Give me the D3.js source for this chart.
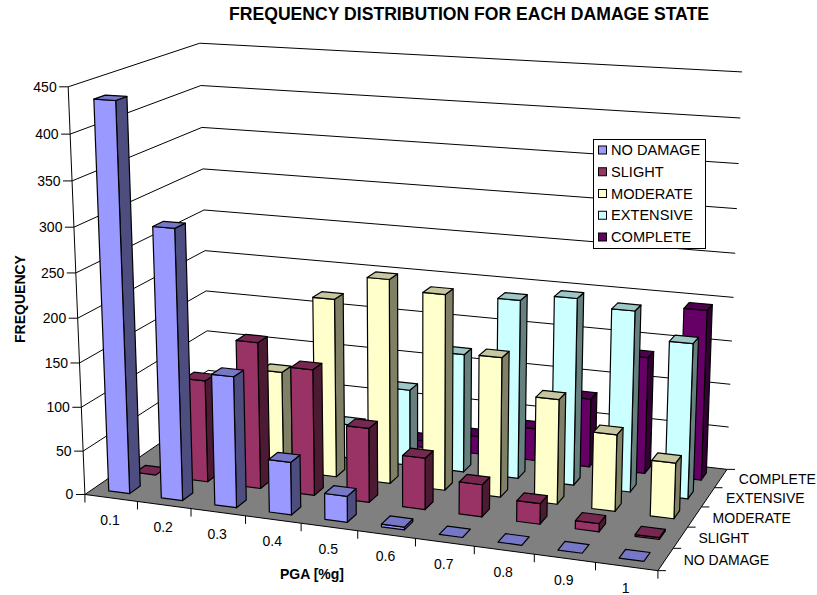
<!DOCTYPE html>
<html>
<head>
<meta charset="utf-8">
<script src="https://cdn.jsdelivr.net/npm/d3@7"></script>
<style>
  body { margin: 0; background: #fff; }
  text { font-family: "Liberation Sans", Arial, sans-serif; fill: #000; }
</style>
</head>
<body>
<svg id="chart"></svg>
<script>
// chart values
const categories = ["0.1", "0.2", "0.3", "0.4", "0.5", "0.6", "0.7", "0.8", "0.9", "1"];
const seriesNames = ["NO DAMAGE", "SLIGHT", "MODERATE", "EXTENSIVE", "COMPLETE"];
const noDamage  = [435, 303, 147, 59, 29, 3, 0, 0, 0, 0];
const slight    = [0, 117, 167, 143, 84, 58, 36, 23, 9, 2];
const moderate  = [0, 0, 115, 205, 233, 222, 158, 118, 86, 62];
const extensive = [0, 0, 0, 40, 89, 137, 205, 213, 205, 175];
const complete  = [0, 0, 0, 0, 8, 21, 38, 80, 135, 195];
const seriesValues = [noDamage, slight, moderate, extensive, complete];
const seriesColors = ["#9999FF", "#993366", "#FFFFCC", "#CCFFFF", "#660066"];

const width = 817;
const height = 595;

// where the corners of the plot box land on screen: [x, y, z] in 0..1 -> [px, py]
const boxCorners = [
  [[0, 0, 0], [85, 494]],
  [[1, 0, 0], [658, 571]],
  [[1, 0, 1], [727, 469]],
  [[0, 0, 1], [209, 410]],
  [[0, 1, 0], [68, 87]],
  [[0, 1, 1], [200, 43]],
  [[1, 1, 1], [742, 72]]
];

// least squares fit of the perspective camera through the corners
function fitCamera(pairs) {
  const rows = [], rhs = [];
  pairs.forEach(([[X, Y, Z], [u, v]]) => {
    rows.push([X, Y, Z, 1, 0, 0, 0, 0, -u * X, -u * Y, -u * Z]); rhs.push(u);
    rows.push([0, 0, 0, 0, X, Y, Z, 1, -v * X, -v * Y, -v * Z]); rhs.push(v);
  });
  const n = 11;
  const m = d3.range(n).map(i => d3.range(n + 1).map(j =>
    d3.sum(rows, (r, k) => r[i] * (j < n ? r[j] : rhs[k]))));
  for (let i = 0; i < n; i++) {
    let p = i;
    for (let k = i + 1; k < n; k++) if (Math.abs(m[k][i]) > Math.abs(m[p][i])) p = k;
    [m[i], m[p]] = [m[p], m[i]];
    for (let k = 0; k < n; k++) {
      if (k === i) continue;
      const f = m[k][i] / m[i][i];
      for (let j = i; j <= n; j++) m[k][j] -= f * m[i][j];
    }
  }
  return m.map((r, i) => r[n] / r[i]);
}

const cam = fitCamera(boxCorners);
function project(X, Y, Z) {
  const w = cam[8] * X + cam[9] * Y + cam[10] * Z + 1;
  return [(cam[0] * X + cam[1] * Y + cam[2] * Z + cam[3]) / w,
          (cam[4] * X + cam[5] * Y + cam[6] * Z + cam[7]) / w];
}

// gap width 150%: bars take 0.4 of each cell, both ways
const x = d3.scaleBand().domain(categories).range([0, 1]).paddingInner(0.6).paddingOuter(0.3);
const z = d3.scaleBand().domain(seriesNames).range([0, 1]).paddingInner(0.6).paddingOuter(0.3);
const y = d3.scaleLinear().domain([0, 450]).range([0, 1]);

const poly = d3.line();
const shade = (c, k) => {
  const col = d3.rgb(c);
  return d3.rgb(col.r * k, col.g * k, col.b * k).formatHex();
};

const svg = d3.select("#chart").attr("width", width).attr("height", height);

// floor
svg.append("path")
  .attr("d", poly([project(0, 0, 0), project(1, 0, 0), project(1, 0, 1), project(0, 0, 1)]) + "Z")
  .attr("fill", "#808080").attr("stroke", "none");

// gridlines on left and back walls
svg.append("g").selectAll("path")
  .data(y.ticks(9))
  .join("path")
  .attr("d", d => poly([project(0, y(d), 0), project(0, y(d), 1), project(1, y(d), 1)]))
  .attr("fill", "none").attr("stroke", "#000").attr("stroke-width", 1);

// axis lines and ticks
const axes = svg.append("g").attr("stroke", "#000").attr("fill", "none");
axes.append("path").attr("d", poly([project(0, 1, 0), project(0, 0, 0), project(1, 0, 0), project(1, 0, 1)]));
axes.selectAll(".ytick").data(y.ticks(9)).join("path").attr("class", "ytick")
  .attr("d", d => { const p = project(0, y(d), 0); return poly([p, [p[0] - 9, p[1]]]); });
axes.selectAll(".xtick").data(d3.range(categories.length + 1)).join("path").attr("class", "xtick")
  .attr("d", i => { const p = project(i / categories.length, 0, 0); return poly([p, [p[0], p[1] + 8]]); });
axes.selectAll(".ztick").data(d3.range(seriesNames.length + 1)).join("path").attr("class", "ztick")
  .attr("d", i => { const p = project(1, 0, i / seriesNames.length); return poly([p, [p[0] + 8, p[1]]]); });

// bars, painted back to front and right to left
const bars = [];
seriesNames.forEach((s, si) => categories.forEach((c, ci) => {
  bars.push({ s, c, si, ci, value: seriesValues[si][ci], color: seriesColors[si] });
}));
bars.sort((a, b) => d3.descending(a.si, b.si) || d3.descending(a.ci, b.ci));

const barG = svg.append("g").selectAll("g").data(bars).join("g")
  .attr("stroke", "#000").attr("stroke-width", 1.2).attr("stroke-linejoin", "round");

function faces(d) {
  const x0 = x(d.c), x1 = x0 + x.bandwidth();
  const z0 = z(d.s), z1 = z0 + z.bandwidth();
  const h = y(d.value);
  return [
    { k: 0.5, pts: [[x1, 0, z0], [x1, 0, z1], [x1, h, z1], [x1, h, z0]] },
    { k: 1, pts: [[x0, 0, z0], [x1, 0, z0], [x1, h, z0], [x0, h, z0]] },
    { k: 0.78, pts: [[x0, h, z0], [x1, h, z0], [x1, h, z1], [x0, h, z1]] }
  ];
}

barG.selectAll("path")
  .data(d => faces(d).filter(f => d.value > 0 || f.k === 0.78).map(f => ({ ...f, color: d.color })))
  .join("path")
  .attr("d", f => poly(f.pts.map(p => project(...p))) + "Z")
  .attr("fill", f => shade(f.color, f.k));

// tick labels
svg.append("g").selectAll("text").data(y.ticks(9)).join("text")
  .attr("x", d => project(0, y(d), 0)[0] - 11.5)
  .attr("y", d => project(0, y(d), 0)[1])
  .attr("dy", "0.35em").attr("text-anchor", "end").attr("font-size", 14)
  .text(d => d);

svg.append("g").selectAll("text").data(categories).join("text")
  .attr("x", d => project(x(d) + x.bandwidth() / 2, 0, 0)[0] - 1)
  .attr("y", d => project(x(d) + x.bandwidth() / 2, 0, 0)[1] + 22)
  .attr("dy", "0.35em").attr("text-anchor", "middle").attr("font-size", 14)
  .text(d => d);

svg.append("g").selectAll("text").data(seriesNames).join("text")
  .attr("x", d => project(1, 0, z(d) + z.bandwidth() / 2)[0] + 18)
  .attr("y", d => project(1, 0, z(d) + z.bandwidth() / 2)[1] + 1)
  .attr("dy", "0.35em").attr("font-size", 14)
  .text(d => d);

// titles
svg.append("text").attr("x", 469).attr("y", 20).attr("text-anchor", "middle")
  .attr("font-size", 17.6).attr("font-weight", "bold")
  .text("FREQUENCY DISTRIBUTION FOR EACH DAMAGE STATE");
svg.append("text").attr("x", 312).attr("y", 579).attr("text-anchor", "middle")
  .attr("font-size", 14).attr("font-weight", "bold").text("PGA [%g]");
svg.append("text").attr("transform", "translate(25,299) rotate(-90)").attr("text-anchor", "middle")
  .attr("font-size", 14).attr("font-weight", "bold").text("FREQUENCY");

// legend
const legend = svg.append("g").attr("transform", "translate(593.5,139.5)");
legend.append("rect").attr("width", 112).attr("height", 109)
  .attr("fill", "#fff").attr("stroke", "#000");
const legendRow = d3.scalePoint().domain(seriesNames).range([10.5, 97.5]);
legend.selectAll("rect.sw").data(seriesNames).join("rect").attr("class", "sw")
  .attr("x", 5).attr("y", d => legendRow(d) - 4).attr("width", 8).attr("height", 8)
  .attr("fill", (d, i) => seriesColors[i]).attr("stroke", "#000");
legend.selectAll("text").data(seriesNames).join("text")
  .attr("x", 17.5).attr("y", d => legendRow(d)).attr("dy", "0.35em").attr("font-size", 14.6)
  .text(d => d);
</script>
</body>
</html>
